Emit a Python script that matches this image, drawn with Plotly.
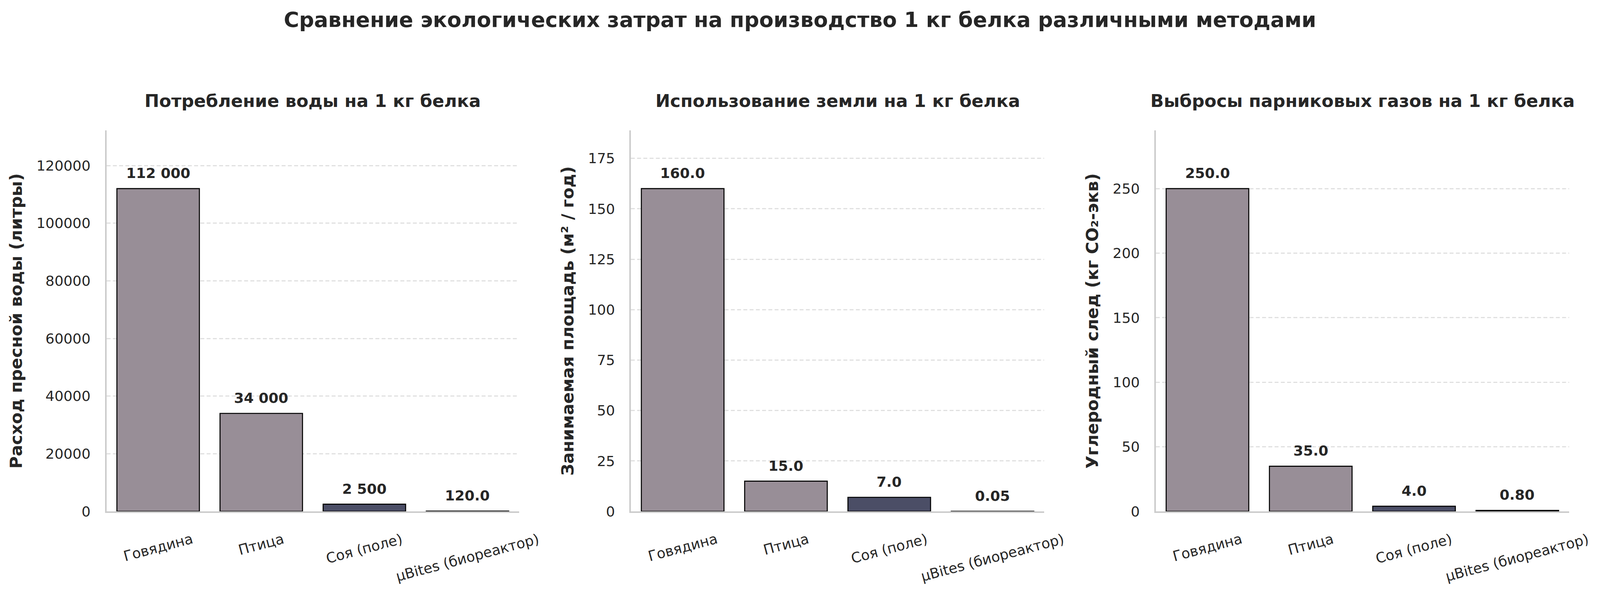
import plotly.graph_objects as go

# data
categories = ["Говядина", "Птица", "Соя (поле)", "µBites (биореактор)"]
water = [112000, 34000, 2500, 120]
land = [160, 15, 7, 0.05]
ghg = [250, 35, 4, 0.8]

panel_titles = ["Потребление воды на 1 кг белка",
                "Использование земли на 1 кг белка",
                "Выбросы парниковых газов на 1 кг белка"]
y_titles = ["Расход пресной воды (литры)",
            "Занимаемая площадь (м² / год)",
            "Углеродный след (кг CO₂-экв)"]
y_dticks = [20000, 25, 50]
bar_colors = ["#988e97", "#988e97", "#4b4e66", "#5fae7e"]

# the browser viewport is 4096x1555 with an 8px body margin,
# so the layout of the 4744x1555 original is squeezed to fit it
VW, VH = 4096, 1555
W, H = VW - 16, VH - 16
KX = VW / 4744.0

def fx(x):  # x in original pixels -> paper fraction
    return (x * KX - 8) / W

def fy(y):  # y in original pixels (from top) -> paper fraction
    return 1 - (y - 8) / H

def fs(size):
    return round(size * KX, 1)

FONT = "DejaVu Sans"
TXT = "#262626"

def fmt(v):
    if v >= 1000:
        return "{:,}".format(int(v)).replace(",", " ")
    if v < 1:
        return "{:.2f}".format(v)
    return "{:.1f}".format(v)

x_px = [(316, 1539), (1871, 3096), (3427, 4652)]
y_dom = [fy(1329), fy(339)]

fig = go.Figure()
annotations = []
series = [water, land, ghg]

for i, vals in enumerate(series):
    n = "" if i == 0 else str(i + 1)
    xa, ya = "x" + n, "y" + n
    fig.add_trace(go.Bar(
        x=categories, y=vals, xaxis=xa, yaxis=ya,
        width=0.8,
        marker=dict(color=bar_colors, line=dict(color="black", width=2.6)),
        showlegend=False,
    ))
    # value labels above bars
    for c, v in zip(categories, vals):
        annotations.append(dict(
            x=c, y=v, xref=xa, yref=ya, text=fmt(v), showarrow=False,
            xanchor="center", yanchor="bottom", yshift=16,
            font=dict(family=FONT, size=fs(42), color=TXT, weight="bold"),
        ))
    # rotated category labels
    for c in categories:
        annotations.append(dict(
            x=c, y=0, xref=xa, yref=ya + " domain", text=c, showarrow=False,
            xanchor="center", yanchor="top", yshift=-46, textangle=-15,
            font=dict(family=FONT, size=fs(42), color=TXT),
        ))
    # panel title
    annotations.append(dict(
        x=0.5, y=fy(262), xref=xa + " domain", yref="paper",
        text=panel_titles[i], showarrow=False,
        xanchor="center", yanchor="middle",
        font=dict(family=FONT, size=fs(52), color=TXT, weight="bold"),
    ))

    l, r = x_px[i]
    fig.layout["xaxis" + n] = dict(
        domain=[fx(l), fx(r)], anchor=ya, type="category",
        range=[-0.5, 3.5], showticklabels=False, ticks="",
        showline=True, linecolor="#cccccc", linewidth=3.5,
        showgrid=False, zeroline=False,
    )
    fig.layout["yaxis" + n] = dict(
        domain=y_dom, anchor=xa, range=[0, max(vals) * 1.18],
        dtick=y_dticks[i], tick0=0, tickformat="d",
        ticks="outside", ticklen=30, tickcolor="rgba(0,0,0,0)",
        tickfont=dict(family=FONT, size=fs(42), color=TXT),
        showline=True, linecolor="#cccccc", linewidth=3.5,
        showgrid=True, gridcolor="#e0e0e0", gridwidth=2.6, griddash="10px,6px",
        zeroline=False,
        title=dict(text=y_titles[i], standoff=24,
                   font=dict(family=FONT, size=fs(50), color=TXT, weight="bold")),
    )

fig.update_layout(
    width=W, height=H,
    margin=dict(l=0, r=0, t=0, b=0),
    paper_bgcolor="white", plot_bgcolor="white",
    title=dict(text="Сравнение экологических затрат на производство 1 кг белка различными методами",
               x=0.5, xanchor="center", y=fy(50), yanchor="middle",
               font=dict(family=FONT, size=fs(62), color=TXT, weight="bold")),
    annotations=annotations,
)

fig.write_html("out.html")
